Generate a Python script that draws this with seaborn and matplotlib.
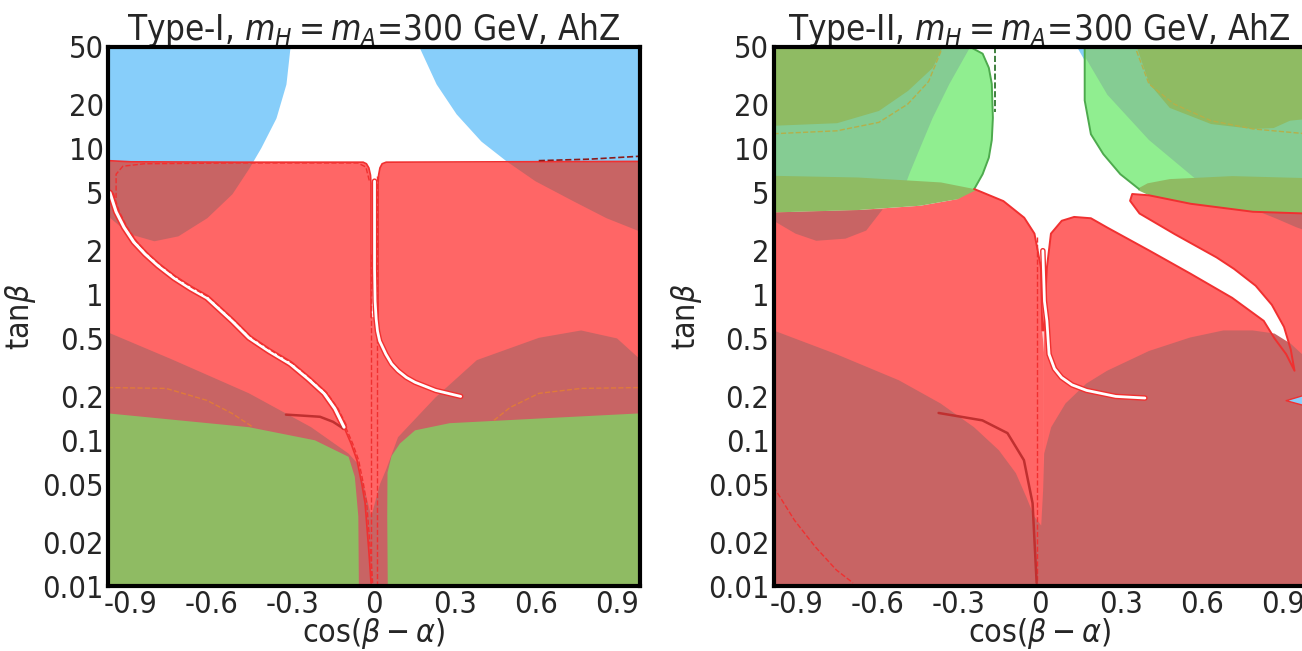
import numpy as np
import matplotlib
matplotlib.use("Agg")
import matplotlib.pyplot as plt
import seaborn as sns

# ======================= data =======================
TITLES = ["Type-I, $m_H = m_A$=300 GeV, AhZ", "Type-II, $m_H = m_A$=300 GeV, AhZ"]
YTICKS = [0.01, 0.02, 0.05, 0.1, 0.2, 0.5, 1, 2, 5, 10, 20, 50]
YTICK_LABELS = ["0.01", "0.02", "0.05", "0.1", "0.2", "0.5", "1", "2", "5", "10", "20", "50"]
XTICKS = [-0.9, -0.6, -0.3, 0, 0.3, 0.6, 0.9]
XTICK_LABELS = ["-0.9", "-0.6", "-0.3", "0", "0.3", "0.6", "0.9"]

# ---- Type-I ----
T1_BLUE_L_X = [-0.985, -0.978, -0.907, -0.815, -0.726, -0.619, -0.526, -0.463, -0.419, -0.363, -0.326, -0.311]
T1_BLUE_L_Y = [3.6, 3.37, 2.62, 2.34, 2.53, 3.37, 4.92, 7.4, 10.2, 16.3, 27.9, 50]
T1_BLUE_R_X = [0.167, 0.230, 0.304, 0.396, 0.489, 0.596, 0.737, 0.859, 0.985]
T1_BLUE_R_Y = [50, 27.9, 17.4, 11.3, 8.28, 6.04, 4.40, 3.37, 2.72]
T1_RED_TOP_X = [-0.985, -0.9, -0.5, -0.1, 0.1, 0.5, 0.985]
T1_RED_TOP_Y = [8.3, 8.15, 8.1, 8.1, 8.1, 8.15, 8.2]
# red outline of the left and right blocks around the central notch
T1_EDGE_L_X = [-0.985, -0.9, -0.5, -0.04, -0.028, -0.019, -0.013, -0.011, -0.011]
T1_EDGE_L_Y = [8.3, 8.15, 8.1, 8.1, 7.9, 7.4, 6.6, 5.8, 0.7]
T1_EDGE_R_X = [0.015, 0.015, 0.017, 0.022, 0.03, 0.045, 0.5, 0.985]
T1_EDGE_R_Y = [0.7, 5.8, 6.6, 7.4, 7.9, 8.1, 8.15, 8.2]
T1_DULL_X = [-0.985, -0.985, -0.75, -0.463, -0.233, -0.094, -0.063, -0.04, -0.01, 0.022, 0.044,
             0.089, 0.228, 0.381, 0.611, 0.767, 0.90, 0.985, 0.985]
T1_DULL_Y = [0.01, 0.55, 0.36, 0.21, 0.123, 0.081, 0.07, 0.05, 0.03, 0.05, 0.0623,
             0.105, 0.197, 0.355, 0.505, 0.567, 0.50, 0.36, 0.01]
T1_GREEN_L_X = [-0.985, -0.985, -0.463, -0.219, -0.094, -0.071, -0.058, -0.056]
T1_GREEN_L_Y = [0.01, 0.153, 0.123, 0.10, 0.077, 0.0561, 0.03, 0.01]
T1_GREEN_R_X = [0.051, 0.049, 0.05, 0.065, 0.096, 0.152, 0.28, 0.61, 0.985, 0.985]
T1_GREEN_R_Y = [0.01, 0.03, 0.06, 0.078, 0.095, 0.117, 0.131, 0.141, 0.153, 0.01]
T1_WHITE_L_X = [-0.978, -0.955, -0.926, -0.89, -0.848, -0.80, -0.741, -0.68, -0.619, -0.526,
                -0.463, -0.39, -0.311, -0.245, -0.185, -0.145, -0.111]
T1_WHITE_L_Y = [5.0, 3.7, 2.9, 2.3, 1.9, 1.58, 1.3, 1.1, 0.95, 0.66,
                 0.505, 0.41, 0.335, 0.265, 0.21, 0.165, 0.123]
T1_TAIL_L_X = [-0.111, -0.085, -0.063, -0.045, -0.033, -0.0185, -0.011]
T1_TAIL_L_Y = [0.123, 0.095, 0.073, 0.05, 0.037, 0.0168, 0.0105]
T1_GAP_X = [0.002, 0.002, 0.004, 0.008, 0.013, 0.021, 0.044, 0.065, 0.089, 0.12, 0.152, 0.228, 0.321]
T1_GAP_Y = [6.0, 1.5, 0.9, 0.68, 0.56, 0.48, 0.39, 0.335, 0.30, 0.27, 0.25, 0.22, 0.2]
T1_DARKLINE_X = [-0.326, -0.274, -0.2, -0.152, -0.115]
T1_DARKLINE_Y = [0.15, 0.148, 0.145, 0.134, 0.121]
T1_DASH_TOP_X = [-0.955, -0.955, -0.93, -0.85, -0.5, -0.06, -0.03, -0.017]
T1_DASH_TOP_Y = [4.6, 6.7, 7.6, 7.9, 8.0, 8.0, 7.5, 6.0]
T1_DASH_TR_X = [0.61, 0.8, 0.985]
T1_DASH_TR_Y = [8.3, 8.5, 8.9]
T1_ORANGE_L_X = [-0.985, -0.77, -0.619, -0.526, -0.448]
T1_ORANGE_L_Y = [0.23, 0.227, 0.188, 0.153, 0.123]
T1_ORANGE_R_X = [0.444, 0.504, 0.611, 0.767, 0.985]
T1_ORANGE_R_Y = [0.137, 0.168, 0.21, 0.227, 0.23]

# ---- Type-II ----
T2_LG_L_X = [-0.985, -0.985, -0.257, -0.211, -0.188, -0.177, -0.173, -0.177, -0.188, -0.211, -0.242, -0.3]
T2_LG_L_Y = [3.8, 50, 50, 45, 36, 27.9, 16.3, 11.5, 8.7, 6.7, 5.3, 4.5]
T2_MG_L_X = [-0.985, -0.985, -0.257, -0.334, -0.396, -0.442, -0.48, -0.5]
T2_MG_L_Y = [4.0, 50, 50, 27.9, 16.3, 10.2, 6.9, 5.5]
T2_DG_L_X = [-0.985, -0.985, -0.75, -0.595, -0.487, -0.396, -0.358]
T2_DG_L_Y = [50, 14.4, 15.0, 18.2, 25, 35.9, 50]
T2_BAND_L_X = [-0.985, -0.673, -0.365, -0.242, -0.236, -0.303, -0.442, -0.673, -0.985]
T2_BAND_L_Y = [6.53, 6.36, 5.88, 5.3, 5.2, 4.52, 4.07, 3.80, 3.66]
T2_DULL_L_X = [-0.985, -0.673, -0.581, -0.642, -0.719, -0.827, -0.904, -0.985]
T2_DULL_L_Y = [3.66, 3.80, 3.85, 2.75, 2.42, 2.34, 2.62, 3.21]
T2_RED_L_X = [-0.985, -0.985, -0.673, -0.442, -0.303, -0.242, -0.134, -0.057, -0.019, 0.005, 0.010, 0.016, 0.016]
T2_RED_L_Y = [0.01, 3.66, 3.80, 4.07, 4.52, 5.3, 4.38, 3.37, 2.62, 1.53, 0.567, 0.40, 0.01]
T2_RED_R_X = [0.013, 0.015, 0.027, 0.042, 0.082, 0.128, 0.19, 0.251, 0.407, 0.559, 0.713, 0.83, 0.87,
              0.913, 0.944, 0.93, 0.905, 0.86, 0.80, 0.72, 0.655, 0.50, 0.37, 0.335, 0.343,
              0.405, 0.559, 0.79, 0.985, 0.985]
T2_RED_R_Y = [0.01, 0.567, 1.53, 2.62, 3.21, 3.41, 3.34, 2.88, 2.0, 1.39, 0.95, 0.66, 0.5,
              0.39, 0.30, 0.42, 0.60, 0.85, 1.15, 1.5, 1.8, 2.6, 3.6, 4.4, 4.9,
              4.8, 4.2, 3.7, 3.6, 0.01]
T2_LG_R_X = [0.167, 0.167, 0.19, 0.236, 0.299, 0.368, 0.6, 0.985, 0.985]
T2_LG_R_Y = [50, 21.5, 12.6, 9.2, 6.7, 5.3, 5.5, 5.5, 50]
T2_MG_R_X = [0.168, 0.171, 0.251, 0.405, 0.574, 0.6, 0.985, 0.985]
T2_MG_R_Y = [50, 42, 23.5, 11.5, 6.3, 5.5, 5.5, 50]
T2_DG_R_X = [0.36, 0.407, 0.482, 0.635, 0.79, 0.867, 0.927, 0.985, 0.985]
T2_DG_R_Y = [50, 27.9, 19.1, 14.8, 13.7, 13.9, 15.6, 16, 50]
T2_BAND_R_X = [0.365, 0.40, 0.482, 0.713, 0.985, 0.985, 0.79, 0.559, 0.405, 0.365]
T2_BAND_R_Y = [5.35, 5.8, 6.2, 6.5, 6.3, 3.6, 3.7, 4.2, 4.8, 5.2]
T2_DULL_R_X = [0.82, 0.88, 0.95, 0.985, 0.985]
T2_DULL_R_Y = [3.66, 3.3, 2.9, 2.75, 3.6]
T2_DULL_B_X = [-0.985, -0.985, -0.753, -0.521, -0.367, -0.243, -0.151, -0.088, -0.049, -0.02, 0.006, 0.013,
               0.017, 0.043, 0.096, 0.173, 0.25, 0.405, 0.557, 0.68, 0.79, 0.87, 0.93, 0.985, 0.985]
T2_DULL_B_Y = [0.01, 0.567, 0.39, 0.258, 0.179, 0.123, 0.0855, 0.0595, 0.0407, 0.03, 0.026, 0.045,
               0.081, 0.123, 0.179, 0.245, 0.30, 0.41, 0.507, 0.567, 0.567, 0.54, 0.46, 0.37, 0.01]
T2_GAP_X = [0.012, 0.018, 0.027, 0.035, 0.055, 0.081, 0.12, 0.174, 0.282, 0.39]
T2_GAP_Y = [2.0, 0.9, 0.66, 0.39, 0.31, 0.27, 0.24, 0.22, 0.2, 0.195]
T2_DARKLINE_X = [-0.374, -0.212, -0.119, -0.058, -0.026, -0.011]
T2_DARKLINE_Y = [0.154, 0.137, 0.112, 0.073, 0.037, 0.0105]
T2_DASH_BL_X = [-0.985, -0.908, -0.83, -0.753, -0.691]
T2_DASH_BL_Y = [0.048, 0.0283, 0.0185, 0.0129, 0.0105]
T2_OLIVE_L_X = [-0.985, -0.75, -0.595, -0.488, -0.411, -0.365]
T2_OLIVE_L_Y = [12.7, 13.3, 15.2, 20.3, 29, 47]
T2_OLIVE_R_X = [0.359, 0.405, 0.498, 0.635, 0.79, 0.985]
T2_OLIVE_R_Y = [47, 27.9, 20.3, 15.6, 13.7, 12.7]
T2_GDASH_X = [-0.165, -0.165]
T2_GDASH_Y = [50, 18]
T2_SPIKE_X = [0.985, 0.913, 0.985]
T2_SPIKE_Y = [0.205, 0.187, 0.172]
T2_BLUE_TOP_X = [0.14, 0.167, 0.167]
T2_BLUE_TOP_Y = [50, 50, 40]

# ======================= style =======================
RED = "#FF6666"
DULL = "#C86464"
BLUE = "#87CEFA"
GDARK = "#8FBB63"
GMID = "#85CC93"
GLIGHT = "#90EE90"
LRED = "#F03030"
DRED = "#C03030"
GLINE = "#4DAA4D"

sns.set_style("white")
plt.rcParams["font.family"] = ["DejaVu Sans"]
plt.rcParams["font.stretch"] = "condensed"
plt.rcParams["mathtext.fontset"] = "dejavusans"

fig = plt.figure(figsize=(13.02, 6.51), dpi=100)
ax1 = fig.add_axes([108 / 1302, 65 / 651, 532 / 1302, 539 / 651])
ax2 = fig.add_axes([773.6 / 1302, 65 / 651, 532 / 1302, 539 / 651])


def logi(xq, xs, ys):
    return 10 ** np.interp(xq, xs, np.log10(ys))


def poly(ax, xs, ys, color, z):
    ax.fill(xs, ys, color=color, lw=0, zorder=z)


def line(ax, xs, ys, color, lw, ls="-", z=5):
    sns.lineplot(x=xs, y=ys, sort=False, estimator=None, ax=ax, color=color,
                 lw=lw, linestyle=ls, zorder=z, solid_joinstyle="round", solid_capstyle="round")


# ---------------- Type-I ----------------
ax = ax1
xl = np.linspace(T1_BLUE_L_X[0], T1_BLUE_L_X[-1], 400)
xr = np.linspace(T1_BLUE_R_X[0], T1_BLUE_R_X[-1], 400)
bl = logi(xl, T1_BLUE_L_X, T1_BLUE_L_Y)
br = logi(xr, T1_BLUE_R_X, T1_BLUE_R_Y)
ax.fill_between(xl, bl, 50, color=BLUE, lw=0, zorder=1)
ax.fill_between(xr, br, 50, color=BLUE, lw=0, zorder=1)
xa = np.linspace(-0.985, 0.985, 600)
ax.fill_between(xa, 0.01, logi(xa, T1_RED_TOP_X, T1_RED_TOP_Y), color=RED, lw=0, zorder=2)
tl = logi(xl, T1_RED_TOP_X, T1_RED_TOP_Y)
tr = logi(xr, T1_RED_TOP_X, T1_RED_TOP_Y)
ax.fill_between(xl, bl, tl, where=bl < tl, color=DULL, lw=0, zorder=3)
ax.fill_between(xr, br, tr, where=br < tr, color=DULL, lw=0, zorder=3)
# white notch between the two red blocks
notch_x = T1_EDGE_L_X[3:-1] + T1_EDGE_L_X[-1:] + T1_EDGE_R_X[:6] + [0.045, -0.04]
notch_y = T1_EDGE_L_Y[3:-1] + T1_EDGE_L_Y[-1:] + T1_EDGE_R_Y[:6] + [8.6, 8.6]
poly(ax, notch_x, notch_y, "white", 3)
poly(ax, T1_DULL_X, T1_DULL_Y, DULL, 3)
poly(ax, T1_GREEN_L_X, T1_GREEN_L_Y, GDARK, 4)
poly(ax, T1_GREEN_R_X, T1_GREEN_R_Y, GDARK, 4)

line(ax, T1_EDGE_L_X, T1_EDGE_L_Y, LRED, 1.2)
line(ax, T1_EDGE_R_X, T1_EDGE_R_Y, LRED, 1.2)
line(ax, T1_WHITE_L_X, T1_WHITE_L_Y, LRED, 4.5)
line(ax, T1_WHITE_L_X, T1_WHITE_L_Y, "white", 2.2, z=6)
line(ax, [v + 0.012 for v in T1_WHITE_L_X], T1_WHITE_L_Y, LRED, 1.0, "--", z=6)
line(ax, T1_TAIL_L_X, T1_TAIL_L_Y, LRED, 1.2)
line(ax, [v + 0.006 for v in T1_TAIL_L_X], T1_TAIL_L_Y, LRED, 1.0, "--")
line(ax, T1_GAP_X, T1_GAP_Y, LRED, 4.0)
line(ax, T1_GAP_X, T1_GAP_Y, "white", 2.0, z=6)
line(ax, [-0.011, -0.011], [1.9, 0.01], LRED, 1.0, "--")
line(ax, [0.011, 0.011], [6.5, 0.01], LRED, 1.0, "--")
line(ax, T1_DARKLINE_X, T1_DARKLINE_Y, DRED, 1.8)
line(ax, T1_DASH_TOP_X, T1_DASH_TOP_Y, LRED, 1.0, "--")
line(ax, T1_DASH_TR_X, T1_DASH_TR_Y, "#8B1A1A", 1.2, "--")
line(ax, T1_ORANGE_L_X, T1_ORANGE_L_Y, "#E07A3A", 1.0, "--")
line(ax, T1_ORANGE_R_X, T1_ORANGE_R_Y, "#E07A3A", 1.0, "--")

# ---------------- Type-II ----------------
ax = ax2
poly(ax, T2_LG_L_X, T2_LG_L_Y, GLIGHT, 1)
poly(ax, T2_LG_R_X, T2_LG_R_Y, GLIGHT, 1)
poly(ax, T2_MG_L_X, T2_MG_L_Y, GMID, 1.5)
poly(ax, T2_MG_R_X, T2_MG_R_Y, GMID, 1.5)
poly(ax, T2_DG_L_X, T2_DG_L_Y, GDARK, 2)
poly(ax, T2_DG_R_X, T2_DG_R_Y, GDARK, 2)
poly(ax, T2_BLUE_TOP_X, T2_BLUE_TOP_Y, BLUE, 2)
poly(ax, T2_RED_L_X, T2_RED_L_Y, RED, 2.5)
poly(ax, T2_RED_R_X, T2_RED_R_Y, RED, 2.5)
poly(ax, T2_DULL_B_X, T2_DULL_B_Y, DULL, 3)
poly(ax, T2_DULL_L_X, T2_DULL_L_Y, DULL, 3)
poly(ax, T2_DULL_R_X, T2_DULL_R_Y, DULL, 3)
poly(ax, T2_BAND_L_X, T2_BAND_L_Y, GDARK, 3.5)
poly(ax, T2_BAND_R_X, T2_BAND_R_Y, GDARK, 3.5)
poly(ax, T2_SPIKE_X, T2_SPIKE_Y, BLUE, 4)

line(ax, T2_LG_L_X[2:11], T2_LG_L_Y[2:11], GLINE, 1.4)
line(ax, T2_LG_R_X[:6], T2_LG_R_Y[:6], GLINE, 1.4)
line(ax, T2_RED_L_X[5:11], T2_RED_L_Y[5:11], LRED, 1.4)
line(ax, T2_RED_R_X[1:29], T2_RED_R_Y[1:29], LRED, 1.4)
line(ax, T2_GAP_X, T2_GAP_Y, LRED, 4.0)
line(ax, T2_GAP_X, T2_GAP_Y, "white", 2.0, z=6)
line(ax, [-0.011, -0.011], [2.5, 0.01], LRED, 1.0, "--")
line(ax, T2_DARKLINE_X, T2_DARKLINE_Y, DRED, 1.8)
line(ax, T2_DASH_BL_X, T2_DASH_BL_Y, LRED, 1.0, "--")
line(ax, T2_OLIVE_L_X, T2_OLIVE_L_Y, "#B4B04A", 1.0, "--")
line(ax, T2_OLIVE_R_X, T2_OLIVE_R_Y, "#B4B04A", 1.0, "--")
line(ax, T2_GDASH_X, T2_GDASH_Y, "#1E6B1E", 1.2, "--")
line(ax, T2_SPIKE_X, T2_SPIKE_Y, LRED, 1.0)

# ---------------- axes styling ----------------
for ax, title in zip((ax1, ax2), TITLES):
    ax.set_yscale("log")
    ax.set_xlim(-0.985, 0.985)
    ax.set_ylim(0.01, 50)
    ax.set_yticks(YTICKS)
    ax.set_yticklabels(YTICK_LABELS)
    ax.yaxis.set_minor_locator(matplotlib.ticker.NullLocator())
    ax.set_xticks(XTICKS)
    ax.set_xticklabels(XTICK_LABELS)
    ax.tick_params(direction="in", length=8, width=1.5, labelsize=22, pad=3,
                   left=True, bottom=True)
    for s in ax.spines.values():
        s.set_linewidth(3)
        s.set_color("black")
        s.set_zorder(10)
    ax.set_xlabel(r"cos($\beta-\alpha$)", fontsize=23, labelpad=-2)
    ax.set_ylabel(r"tan$\beta$", fontsize=23, labelpad=3)
    ax.set_title(title, fontsize=25, pad=5)

fig.savefig("out.png", dpi=100)
